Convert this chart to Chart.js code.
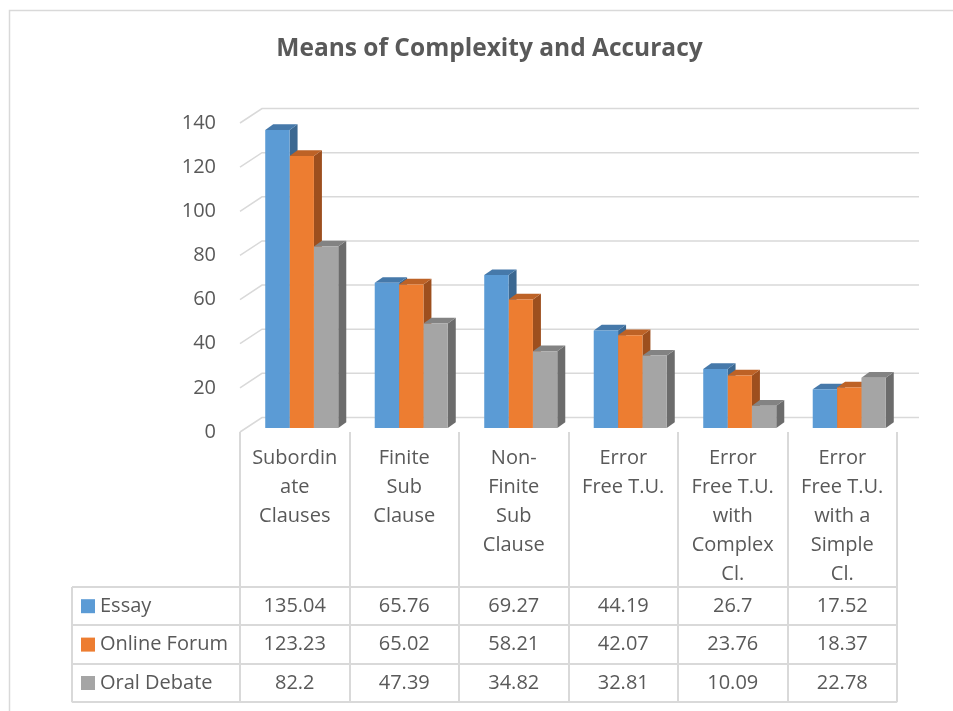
<!DOCTYPE html>
<html>
<head>
<meta charset="utf-8">
<title>Means of Complexity and Accuracy</title>
<script src="https://cdn.jsdelivr.net/npm/chart.js@4"></script>
<style>
  html, body { margin: 0; padding: 0; background: #fff; }
  #chart { display: block; }
</style>
</head>
<body>
<canvas id="chart" width="953" height="711"></canvas>
<script>
// data
const categories = [
  ["Subordin", "ate", "Clauses"],
  ["Finite", "Sub", "Clause"],
  ["Non-", "Finite", "Sub", "Clause"],
  ["Error", "Free T.U."],
  ["Error", "Free T.U.", "with", "Complex", "Cl."],
  ["Error", "Free T.U.", "with a", "Simple", "Cl."]
];
const seriesNames = ["Essay", "Online Forum", "Oral Debate"];
const essay = [135.04, 65.76, 69.27, 44.19, 26.7, 17.52];
const onlineForum = [123.23, 65.02, 58.21, 42.07, 23.76, 18.37];
const oralDebate = [82.2, 47.39, 34.82, 32.81, 10.09, 22.78];
const yMin = 0, yMax = 140, yStep = 20;

// colours: front, top, side
const colFront = ["#5B9BD5", "#ED7D31", "#A5A5A5"];
const colTop = ["#4679AA", "#BD6226", "#838383"];
const colSide = ["#3C6891", "#9D4F1E", "#6C6C6C"];

const FONT = "'Open Sans', sans-serif";
const TEXT = "#595959";
const LINE = "#D9D9D9";

// 3D offsets
const WALL_DX = 22, WALL_DY = 14.5;      // floor/back wall depth
const BAR_SHIFT_X = 7, BAR_SHIFT_Y = -4; // bars sit a bit behind the front edge
const BAR_DX = 8, BAR_DY = 5.7;          // bar depth

const TABLE_TOP_OFFSET = 155; // from chart bottom to table top
const ROW_H = 38.4;
const TABLE_LEFT = 72;

function drawFaces(ctx, bar, i) {
  const p = bar.getProps(["x", "y", "base", "width"], true);
  const l = p.x - p.width / 2, r = p.x + p.width / 2;
  // side
  ctx.fillStyle = colSide[i];
  ctx.beginPath();
  ctx.moveTo(r, p.y);
  ctx.lineTo(r + BAR_DX, p.y - BAR_DY);
  ctx.lineTo(r + BAR_DX, p.base - BAR_DY);
  ctx.lineTo(r, p.base);
  ctx.closePath();
  ctx.fill();
  // top
  ctx.fillStyle = colTop[i];
  ctx.beginPath();
  ctx.moveTo(l, p.y);
  ctx.lineTo(l + BAR_DX, p.y - BAR_DY);
  ctx.lineTo(r + BAR_DX, p.y - BAR_DY);
  ctx.lineTo(r, p.y);
  ctx.closePath();
  ctx.fill();
}

const threeD = {
  id: "threeD",
  beforeDraw(chart) {
    const ctx = chart.ctx;
    ctx.save();
    // outer frame, only left and top are in the picture
    ctx.strokeStyle = LINE;
    ctx.lineWidth = 1.5;
    ctx.beginPath();
    ctx.moveTo(9.5, chart.height);
    ctx.lineTo(9.5, 10.5);
    ctx.lineTo(chart.width, 10.5);
    ctx.stroke();
    ctx.restore();
  },
  beforeDatasetsDraw(chart) {
    const ctx = chart.ctx;
    const y = chart.scales.y;
    const a = chart.chartArea;
    ctx.save();
    ctx.strokeStyle = LINE;
    ctx.lineWidth = 1.5;
    for (let v = yMin; v <= yMax; v += yStep) {
      const py = y.getPixelForValue(v);
      ctx.beginPath();
      ctx.moveTo(a.left, py);
      ctx.lineTo(a.left + WALL_DX, py - WALL_DY);
      ctx.lineTo(a.right + WALL_DX, py - WALL_DY);
      ctx.stroke();
    }
    ctx.restore();

    // bars: all side/top faces first (left to right), the library draws the fronts after
    ctx.save();
    ctx.translate(BAR_SHIFT_X, BAR_SHIFT_Y);
    const metas = [0, 1, 2].map(i => chart.getDatasetMeta(i));
    for (let c = 0; c < categories.length; c++) {
      metas.forEach((m, i) => drawFaces(ctx, m.data[c], i));
    }
  },
  afterDatasetsDraw(chart) {
    chart.ctx.restore();
  },
  afterDraw(chart) {
    const ctx = chart.ctx;
    const x = chart.scales.x;
    const a = chart.chartArea;
    const half = (x.getPixelForValue(1) - x.getPixelForValue(0)) / 2;
    const tableTop = a.bottom + TABLE_TOP_OFFSET;
    const tableBottom = tableTop + ROW_H * seriesNames.length;
    ctx.save();
    ctx.strokeStyle = LINE;
    ctx.lineWidth = 2;
    // column lines
    for (let c = 0; c <= categories.length; c++) {
      const px = Math.round(x.getPixelForValue(c) - half);
      ctx.beginPath();
      ctx.moveTo(px, a.bottom);
      ctx.lineTo(px, tableBottom);
      ctx.stroke();
    }
    ctx.beginPath();
    ctx.moveTo(TABLE_LEFT, tableTop);
    ctx.lineTo(TABLE_LEFT, tableBottom);
    ctx.stroke();
    // row lines
    for (let r = 0; r <= seriesNames.length; r++) {
      const py = Math.round(tableTop + r * ROW_H);
      ctx.beginPath();
      ctx.moveTo(TABLE_LEFT, py);
      ctx.lineTo(a.right, py);
      ctx.stroke();
    }
    // cells
    const rows = [essay, onlineForum, oralDebate];
    ctx.font = "20px " + FONT;
    ctx.textBaseline = "middle";
    rows.forEach((vals, r) => {
      const cy = tableTop + r * ROW_H + ROW_H / 2;
      ctx.fillStyle = colFront[r];
      ctx.fillRect(TABLE_LEFT + 9, cy - 7, 14, 14);
      ctx.fillStyle = TEXT;
      ctx.textAlign = "left";
      ctx.fillText(seriesNames[r], TABLE_LEFT + 28, cy);
      ctx.textAlign = "center";
      vals.forEach((v, c) => {
        ctx.fillText(String(v), x.getPixelForValue(c), cy);
      });
    });
    ctx.restore();
  }
};

new Chart(document.getElementById("chart"), {
  type: "bar",
  data: {
    labels: categories,
    datasets: [
      { label: seriesNames[0], data: essay, backgroundColor: colFront[0] },
      { label: seriesNames[1], data: onlineForum, backgroundColor: colFront[1] },
      { label: seriesNames[2], data: oralDebate, backgroundColor: colFront[2] }
    ]
  },
  options: {
    responsive: false,
    animation: false,
    devicePixelRatio: 1,
    layout: { padding: { left: 82, right: 56, top: 0, bottom: 0 } },
    datasets: {
      bar: { categoryPercentage: 0.667, barPercentage: 1, borderWidth: 0 }
    },
    plugins: {
      legend: { display: false },
      tooltip: { enabled: false },
      title: {
        display: true,
        text: "Means of Complexity and Accuracy",
        color: TEXT,
        font: { family: FONT, size: 24.5, weight: "bold", lineHeight: 1.2 },
        padding: { top: 34, bottom: 59.6 }
      }
    },
    scales: {
      x: {
        grid: { display: false },
        border: { display: false },
        ticks: {
          color: TEXT,
          font: { family: FONT, size: 20, lineHeight: 29 / 20 },
          padding: 3.5,
          maxRotation: 0,
          autoSkip: false
        },
        afterFit: s => { s.height = 279; }
      },
      y: {
        min: yMin,
        max: yMax,
        grid: { display: false },
        border: { display: false },
        ticks: {
          stepSize: yStep,
          color: TEXT,
          font: { family: FONT, size: 20 },
          padding: 16
        },
        afterFit: s => { s.width = 158; }
      }
    }
  },
  plugins: [threeD]
});
</script>
</body>
</html>
